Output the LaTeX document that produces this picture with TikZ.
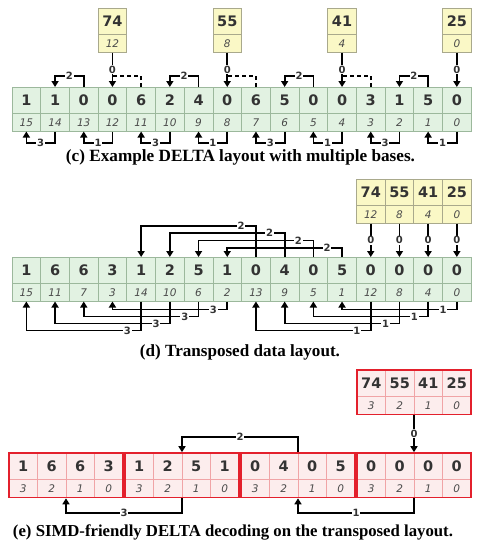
\documentclass[tikz,border=0pt]{standalone}
\usepackage{fontspec}
\setmainfont{Liberation Serif}
\newfontfamily\dv{DejaVu Sans}
\usetikzlibrary{arrows.meta,fit}

\definecolor{gfill}{HTML}{E2F2E2}
\definecolor{gline}{HTML}{9CB89C}
\definecolor{yfill}{HTML}{FAF8C6}
\definecolor{yline}{HTML}{A9A98C}
\definecolor{rfill}{HTML}{FCEDED}
\definecolor{rinner}{HTML}{F0A4A6}
\definecolor{rline}{HTML}{E3202C}
\definecolor{txt}{HTML}{333333}
\definecolor{itxt}{HTML}{4A4A4A}

\tikzset{
 cellbase/.style={rectangle, inner sep=0pt, outer sep=0pt, minimum width=28.7pt, line width=0.8pt},
 valc/.style={cellbase, minimum height=26.5pt, font=\dv\bfseries\fontsize{14.5}{14.5}\selectfont, text=txt},
 idxc/.style={cellbase, minimum height=18pt, font=\dv\itshape\fontsize{10.5}{10.5}\selectfont, text=itxt},
 gcell/.style={draw=gline, fill=gfill},
 ycell/.style={draw=yline, fill=yfill},
 rcell/.style={draw=rinner, fill=rfill, minimum width=28.5pt},
 rgroup/.style={draw=rline, line width=1.6pt, inner sep=0pt, rectangle},
 conn/.style={line width=1.7pt, draw=black},
 arr/.style={conn, -{Triangle[width=7pt,length=6pt]}},
 lbl/.style={fill=white, inner sep=0.8pt, font=\dv\bfseries\fontsize{10}{10}\selectfont, text=txt},
 captext/.style={font=\bfseries\fontsize{15.5}{15.5}\selectfont, inner sep=0pt},
}

\begin{document}
\begin{tikzpicture}[x=1pt,y=-1pt]
\useasboundingbox (0,0) rectangle (478,547);

% ================= (c) =================
\foreach \v [count=\p from 0] in {1,1,0,0,6,2,4,0,6,5,0,0,3,1,5,0} {
  \pgfmathtruncatemacro\ix{15-\p}
  \node[valc,gcell] (cv\p) at ({12+(\p+0.5)*28.7},100.25) {\v};
  \node[idxc,gcell] (ci\p) at ({12+(\p+0.5)*28.7},122.5) {\ix};
}
\foreach \v/\i [count=\k from 0] in {74/12,55/8,41/4,25/0} {
  \pgfmathtruncatemacro\p{4*\k+3}
  \node[valc,ycell] (cyv\k) at ({12+(\p+0.5)*28.7},21.25) {\v};
  \node[idxc,ycell] (cyi\k) at ({12+(\p+0.5)*28.7},43.5) {\i};
  \draw[arr] (cyi\k.south) -- node[lbl]{0} (cv\p.north);
}
\coordinate (ctl) at (0,76);
\coordinate (cbl) at (0,143);
\foreach \a/\b in {2/1,6/5,10/9,14/13}
  \draw[arr] (cv\a.north) -- (cv\a.north |- ctl) -- node[lbl]{2} (cv\b.north |- ctl) -- (cv\b.north);
\foreach \a/\b in {4/3,8/7,12/11}
  \draw[conn,dash pattern=on 4pt off 3pt] (cv\a.north) -- (cv\a.north |- ctl) -- (cv\b.north |- ctl);
\foreach \a/\b/\l in {1/0/3,3/2/1,5/4/3,7/6/1,9/8/3,11/10/1,13/12/3,15/14/1}
  \draw[arr] (ci\a.south) -- (ci\a.south |- cbl) -- node[lbl]{\l} (ci\b.south |- cbl) -- (ci\b.south);
\node[captext] (capc) at (240.5,157.5) {\resizebox{349pt}{!}{(c) Example DELTA layout with multiple bases.}};

% ================= (d) =================
\foreach \v/\i [count=\p from 0] in {1/15,6/11,6/7,3/3,1/14,2/10,5/6,1/2,0/13,4/9,0/5,5/1,0/12,0/8,0/4,0/0} {
  \node[valc,gcell] (dv\p) at ({12+(\p+0.5)*28.7},270.25) {\v};
  \node[idxc,gcell] (di\p) at ({12+(\p+0.5)*28.7},292.5) {\i};
}
\foreach \v/\i [count=\k from 0] in {74/12,55/8,41/4,25/0} {
  \pgfmathtruncatemacro\p{\k+12}
  \node[valc,ycell] (dyv\k) at ({12+(\p+0.5)*28.7},192.25) {\v};
  \node[idxc,ycell] (dyi\k) at ({12+(\p+0.5)*28.7},214.5) {\i};
}
\foreach \k [evaluate=\k as \p using int(\k+12)] in {0,1,2,3}
  \draw[arr] (dyi\k.south) -- node[lbl]{0} (dv\p.north);
\foreach \a/\b/\y in {8/4/226,9/5/233,10/6/240.5,11/7/248} {
  \coordinate (dl) at (0,\y);
  \draw[arr] (dv\a.north) -- (dv\a.north |- dl) -- node[lbl,pos=0.13]{2} (dv\b.north |- dl) -- (dv\b.north);
}
\foreach \a/\b/\y/\l in {4/0/330.5/3,5/1/323.5/3,6/2/316.5/3,7/3/309.5/3,12/8/330.5/1,13/9/323.5/1,14/10/316.5/1,15/11/309.5/1} {
  \coordinate (dl) at (0,\y);
  \draw[arr] (di\a.south) -- (di\a.south |- dl) -- node[lbl,pos=0.12]{\l} (di\b.south |- dl) -- (di\b.south);
}
\node[captext] (capd) at (240,352.5) {\resizebox{200pt}{!}{(d) Transposed data layout.}};

% ================= (e) =================
\foreach \g/\x/\vals in {1/9/{1,6,6,3},2/125/{1,2,5,1},3/241/{0,4,0,5},4/357/{0,0,0,0}} {
  \foreach \v [count=\c from 0] in \vals {
    \pgfmathtruncatemacro\ix{3-\c}
    \node[valc,rcell] (e\g v\c) at ({\x+(\c+0.5)*28.5},466.25) {\v};
    \node[idxc,rcell] (e\g i\c) at ({\x+(\c+0.5)*28.5},488.5) {\ix};
  }
}
\foreach \v [count=\c from 0] in {74,55,41,25} {
  \pgfmathtruncatemacro\ix{3-\c}
  \node[valc,rcell] (ebv\c) at ({357+(\c+0.5)*28.5},383.25) {\v};
  \node[idxc,rcell] (ebi\c) at ({357+(\c+0.5)*28.5},405.5) {\ix};
}
\node[rgroup,fit=(e1v0)(e1i3)] (g1) {};
\node[rgroup,fit=(e2v0)(e2i3)] (g2) {};
\node[rgroup,fit=(e3v0)(e3i3)] (g3) {};
\node[rgroup,fit=(e4v0)(e4i3)] (g4) {};
\node[rgroup,fit=(ebv0)(ebi3)] (gb) {};
\coordinate (etl) at (0,437);
\coordinate (ebl) at (0,513);
\draw[arr] (gb.south) -- node[lbl]{0} (g4.north);
\draw[arr] (g3.north) -- (g3.north |- etl) -- node[lbl]{2} (g2.north |- etl) -- (g2.north);
\draw[arr] (g2.south) -- (g2.south |- ebl) -- node[lbl]{3} (g1.south |- ebl) -- (g1.south);
\draw[arr] (g4.south) -- (g4.south |- ebl) -- node[lbl]{1} (g3.south |- ebl) -- (g3.south);
\node[captext] (cape) at (233,532) {\resizebox{440pt}{!}{(e) SIMD-friendly DELTA decoding on the transposed layout.}};
\end{tikzpicture}
\end{document}
